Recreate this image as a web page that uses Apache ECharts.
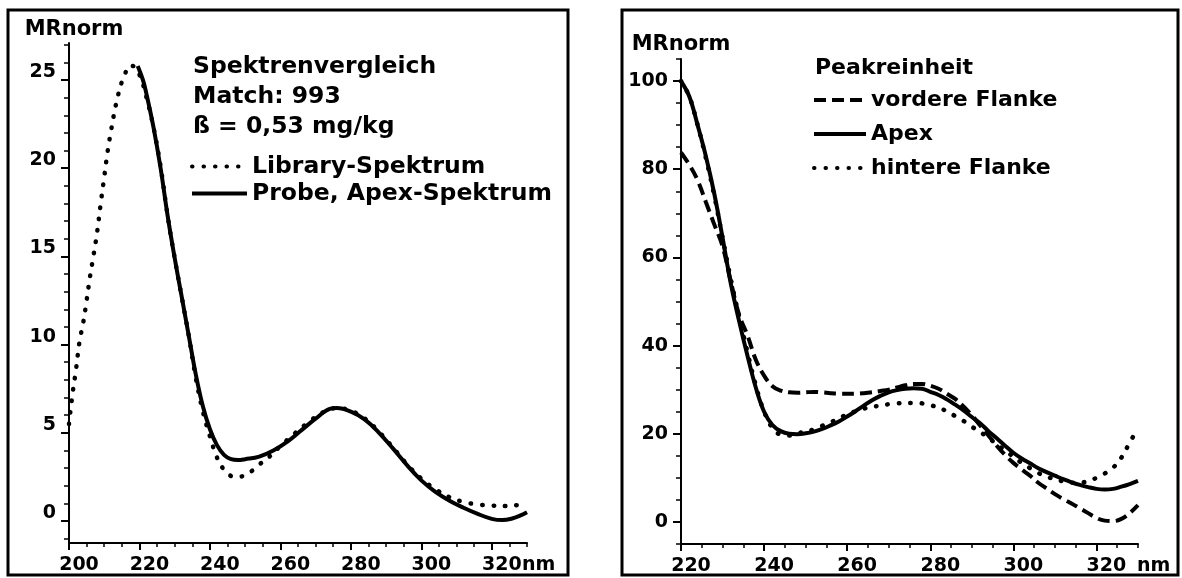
<!DOCTYPE html>
<html><head><meta charset="utf-8">
<script src="https://cdn.jsdelivr.net/npm/echarts@6/dist/echarts.min.js"></script>
<style>html,body{margin:0;padding:0;background:#fff}#c{width:1182px;height:578px}</style>
</head><body><div id="c"></div>
<script>
// ---------- Left panel: Spektrenvergleich ----------
const libraryNm = [200,201,202,203,204,205,206,207,208,209,210,211,212,213,214,215,216,217,218,220,222,224,226,228,230,232,234,236,238,240,242,244,246,248,250,252,254,256,258,260,264,268,272,276,280,284,288,292,296,300,304,308,312,316,320,324,328,330];
const libraryVals = [5.5,7.2,8.6,10.2,11.2,12.5,13.9,15.1,16.4,18.0,19.5,21.0,22.2,23.3,24.2,24.9,25.4,25.8,25.8,25.3,24.0,22.3,20.1,17.3,14.9,12.7,10.5,8.1,6.2,4.8,3.6,2.9,2.55,2.5,2.6,2.85,3.2,3.5,3.85,4.25,4.95,5.6,6.15,6.4,6.25,5.8,5.05,4.15,3.2,2.4,1.8,1.35,1.08,0.93,0.87,0.85,0.92,1.0];
const probeNm = [219.5,221,222,224,226,228,230,232,234,236,238,240,242,244,246,248,250,254,258,262,266,270,274,276,280,284,288,292,296,300,304,308,312,316,320,323,326,328,330];
const probeVals = [25.8,25.0,24.2,22.3,20.0,17.3,14.9,12.7,10.5,8.3,6.5,5.2,4.3,3.75,3.5,3.45,3.5,3.65,4.0,4.5,5.15,5.8,6.35,6.4,6.2,5.75,5.0,4.1,3.15,2.3,1.65,1.15,0.75,0.4,0.12,0.05,0.15,0.3,0.5];
const leftXTicks = [200,220,240,260,280,300,320];
const leftXMinor = [205,210,215,225,230,235,245,250,255,265,270,275,285,290,295,305,310,315,325,330];
const leftYTicks = [0,5,10,15,20,25];
const leftYMinor = [-1,1,2,3,4,6,7,8,9,11,12,13,14,16,17,18,19,21,22,23,24,26,27];

// ---------- Right panel: Peakreinheit ----------
const rightNm = [220,222,224,226,228,230,232,234,236,238,240,242,244,246,248,250,252,254,256,258,260,262,264,266,268,270,272,274,276,278,280,282,284,286,288,290,292,294,296,298,300,302,304,306,308,310,312,314,316,318,320,322,324,326,328,330];
const vordereVals = [83.8,81.0,77.5,72.5,67.5,62.5,54.5,47.0,42.3,36.8,33.2,30.8,29.8,29.4,29.3,29.4,29.5,29.4,29.2,29.1,29.1,29.1,29.2,29.4,29.7,30.0,30.5,31.0,31.3,31.3,30.9,30.2,29.1,27.9,26.2,24.2,21.9,19.6,17.3,15.2,13.4,11.9,10.5,8.9,7.6,6.3,5.2,4.2,3.1,2.0,0.9,0.3,0.2,0.7,2.0,3.8];
const apexVals = [100,96.5,90,82.9,74.5,64.5,54,45.5,37.7,30.5,25,22,20.6,20.0,19.9,20.1,20.5,21.1,21.9,22.8,23.9,25.1,26.4,27.6,28.6,29.4,29.9,30.2,30.3,30.2,29.5,28.8,27.8,26.6,25.3,23.8,22.4,20.6,19.0,17.3,15.7,14.4,13.3,12.2,11.3,10.5,9.7,9.0,8.4,7.9,7.5,7.35,7.5,8.0,8.6,9.3];
const hintereVals = [100,96.5,90,82.5,74,64.5,55,46.5,38.5,31,25,21.3,19.8,19.6,20.1,20.5,21.0,21.8,22.6,23.5,24.4,25.1,25.7,26.1,26.4,26.7,26.9,27.0,27.0,26.9,26.5,25.9,25.1,24.0,22.9,21.6,20.4,19.1,17.6,16.2,14.8,13.4,12.2,11.1,10.3,9.7,9.2,8.9,8.9,9.3,10.0,11.0,12.3,14.6,18.0,21.3];
const rightXTicks = [220,240,260,280,300,320];
const rightXMinor = [225,230,235,245,250,255,265,270,275,285,290,295,305,310,315,325,330];
const rightYTicks = [0,20,40,60,80,100];
const rightYMinor = [-5,5,10,15,25,30,35,45,50,55,65,70,75,85,90,95,105];

const FONT = 'DejaVu Sans';
const zip = (xs, ys) => xs.map((x, i) => [x, ys[i]]);
const txt = (size, extra) => Object.assign({fontFamily: FONT, fontWeight: 'bold', fontSize: size, color: '#000'}, extra || {});

function xAxisPair(grid, min, max, ticks, minor, nameGap) {
  return [{
    type: 'value', gridIndex: grid, min: min, max: max, position: 'bottom',
    axisLine: {show: true, onZero: false, lineStyle: {color: '#000', width: 2}},
    axisTick: {show: true, customValues: ticks, length: 7, lineStyle: {color: '#000', width: 2}},
    axisLabel: {show: true, customValues: ticks, margin: 12, padding: [0, 0, 0, 20], verticalAlign: 'top', lineHeight: 20, ...txt(19)},
    splitLine: {show: false},
    name: 'nm', nameLocation: 'end', nameGap: nameGap, nameMoveOverlap: false,
    nameTextStyle: txt(19, {verticalAlign: 'top', lineHeight: 20, padding: [12, 0, 0, 0]})
  }, {
    type: 'value', gridIndex: grid, min: min, max: max, position: 'bottom',
    axisLine: {show: false, onZero: false},
    axisTick: {show: true, customValues: minor, length: 4, lineStyle: {color: '#000', width: 1.5}},
    axisLabel: {show: false},
    splitLine: {show: false}
  }];
}
function yAxisPair(grid, min, max, ticks, minor, labelExtra, nameGap, namePad) {
  return [{
    type: 'value', gridIndex: grid, min: min, max: max, position: 'left',
    axisLine: {show: true, onZero: false, lineStyle: {color: '#000', width: 2}},
    axisTick: {show: true, customValues: ticks, length: 8, lineStyle: {color: '#000', width: 2}},
    axisLabel: Object.assign({show: true, customValues: ticks, margin: 13}, txt(19, labelExtra)),
    splitLine: {show: false},
    name: 'MRnorm', nameLocation: 'end', nameGap: nameGap, nameMoveOverlap: false,
    nameTextStyle: txt(21, {lineHeight: 22, padding: namePad})
  }, {
    type: 'value', gridIndex: grid, min: min, max: max, position: 'left',
    axisLine: {show: false, onZero: false},
    axisTick: {show: true, customValues: minor, length: 5, lineStyle: {color: '#000', width: 1.5}},
    axisLabel: {show: false},
    splitLine: {show: false}
  }];
}

const solid = {color: '#000', width: 4, type: 'solid'};
const dotted = {color: '#000', width: 4.5, type: [0.5, 11], cap: 'round'};
const dashed = {color: '#000', width: 4, type: [12, 6]};

const legendBase = {orient: 'vertical', itemHeight: 14, itemGap: 0, padding: 0, selectedMode: false,
  itemStyle: {opacity: 0}, lineStyle: {width: 4, opacity: 1}};

const option = {
  animation: false,
  backgroundColor: '#fff',
  title: [
    {text: 'Spektrenvergleich\nMatch: 993\nß = 0,53 mg/kg', left: 193, top: 52, padding: 0,
     textStyle: txt(23.5, {lineHeight: 30})},
    {text: 'Peakreinheit', left: 815, top: 53, padding: 0, textStyle: txt(22, {lineHeight: 30})}
  ],
  legend: [
    Object.assign({}, legendBase, {data: ['Library-Spektrum', 'Probe, Apex-Spektrum'], left: 190, top: 153,
     itemWidth: 55, textStyle: txt(23.5, {lineHeight: 27})}),
    Object.assign({}, legendBase, {data: ['vordere Flanke', 'Apex', 'hintere Flanke'], left: 812, top: 83,
     itemWidth: 52, textStyle: txt(22, {lineHeight: 34})})
  ],
  grid: [
    {left: 69, right: 655, top: 43, bottom: 35},
    {left: 681, right: 44, top: 59, bottom: 34}
  ],
  xAxis: [
    ...xAxisPair(0, 200, 330, leftXTicks, leftXMinor, -5),
    ...xAxisPair(1, 220, 330, rightXTicks, rightXMinor, -1)
  ],
  yAxis: [
    ...yAxisPair(0, -1.25, 27.1, leftYTicks, leftYMinor, {verticalAlign: 'bottom', lineHeight: 16}, 2, [0, 0, 0, 10]),
    ...yAxisPair(1, -5, 105, rightYTicks, rightYMinor, {lineHeight: 20}, 3, [0, 0, 0, 0])
  ],
  series: [
    {name: 'Library-Spektrum', type: 'line', xAxisIndex: 0, yAxisIndex: 0, data: zip(libraryNm, libraryVals),
     smooth: 0.4, symbol: 'none', lineStyle: dotted, itemStyle: {color: '#000'}, z: 3},
    {name: 'Probe, Apex-Spektrum', type: 'line', xAxisIndex: 0, yAxisIndex: 0, data: zip(probeNm, probeVals),
     smooth: 0.4, symbol: 'none', lineStyle: solid, itemStyle: {color: '#000'}, z: 2},
    {name: 'vordere Flanke', type: 'line', xAxisIndex: 2, yAxisIndex: 2, data: zip(rightNm, vordereVals),
     smooth: 0.4, symbol: 'none', lineStyle: dashed, itemStyle: {color: '#000'}},
    {name: 'Apex', type: 'line', xAxisIndex: 2, yAxisIndex: 2, data: zip(rightNm, apexVals),
     smooth: 0.4, symbol: 'none', lineStyle: solid, itemStyle: {color: '#000'}},
    {name: 'hintere Flanke', type: 'line', xAxisIndex: 2, yAxisIndex: 2, data: zip(rightNm, hintereVals),
     smooth: 0.4, symbol: 'none', lineStyle: dotted, itemStyle: {color: '#000'}}
  ],
  graphic: [
    {type: 'rect', silent: true, shape: {x: 8, y: 10, width: 560, height: 565}, style: {fill: 'none', stroke: '#000', lineWidth: 3}},
    {type: 'rect', silent: true, shape: {x: 622, y: 10, width: 556, height: 565}, style: {fill: 'none', stroke: '#000', lineWidth: 3}}
  ]
};
const chart = echarts.init(document.getElementById('c'), null, {renderer: 'canvas'});
chart.setOption(option);
</script>
</body></html>
